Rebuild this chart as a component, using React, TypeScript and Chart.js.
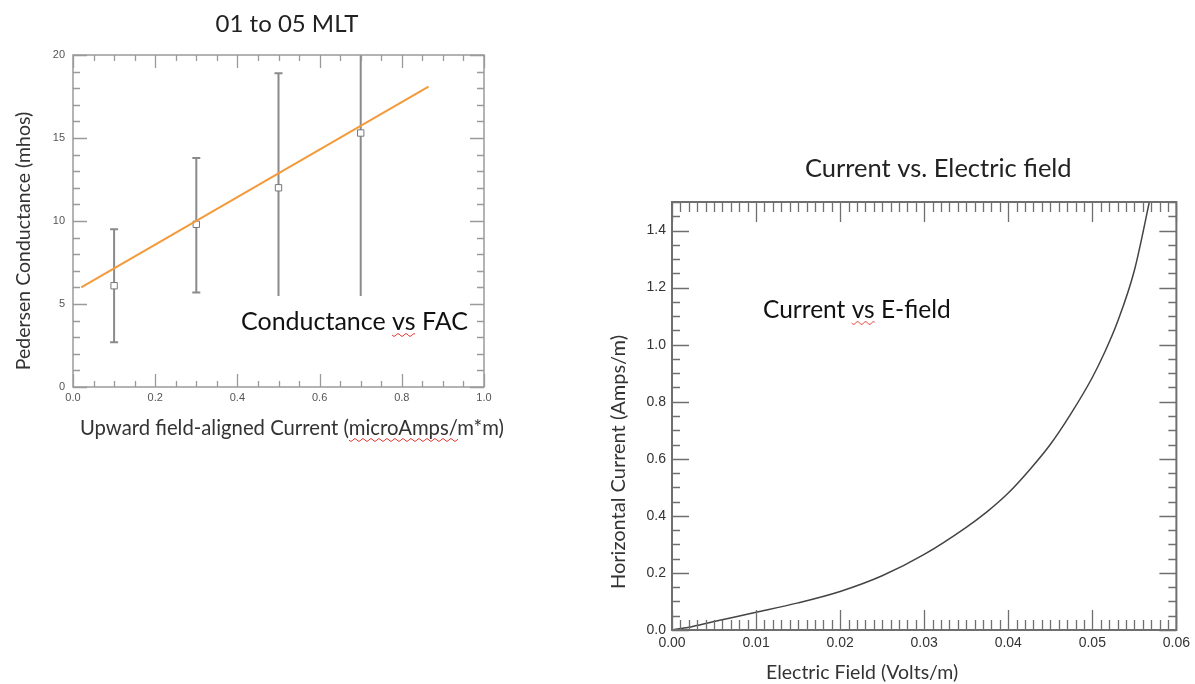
import React, { useEffect, useRef } from "react";
import { Chart, registerables } from "chart.js";

Chart.register(...registerables);

// ---------- Left chart data: Conductance vs FAC ----------
const facCurrent = [0.1, 0.3, 0.5, 0.7];
const conductance = [6.1, 9.8, 12.0, 15.3];
const conductanceLow = [2.7, 5.7, 5.1, 4.5];
const conductanceHigh = [9.5, 13.8, 18.9, 21.5];
const fitCurrent = [0.02, 0.865];
const fitConductance = [6.0, 18.1];
const leftXTicks = [0, 0.2, 0.4, 0.6, 0.8, 1.0];
const leftYTicks = [0, 5, 10, 15, 20];

// ---------- Right chart data: Current vs E-field ----------
const eField = [0, 0.002, 0.005, 0.01, 0.015, 0.02, 0.025, 0.03, 0.035, 0.0375, 0.04, 0.0425, 0.045, 0.0475, 0.05, 0.0515, 0.053, 0.055, 0.057];
const hCurrent = [0, 0.01, 0.03, 0.062, 0.095, 0.135, 0.19, 0.265, 0.36, 0.415, 0.48, 0.56, 0.65, 0.76, 0.885, 0.975, 1.08, 1.26, 1.53];
const rightXTicks = [0, 0.01, 0.02, 0.03, 0.04, 0.05, 0.06];
const rightYTicks = [0, 0.2, 0.4, 0.6, 0.8, 1.0, 1.2, 1.4];

const TEXT_FONT = "Lato, 'Open Sans', sans-serif";
const TICK_FONT = "'Liberation Sans', Arial, sans-serif";

// Frame with IDL-style inward ticks on all four sides
const idlFrame = {
  id: "idlFrame",
  afterDraw(chart: any, _args: any, opts: any) {
    const { ctx, chartArea: a, scales } = chart;
    ctx.save();
    ctx.strokeStyle = opts.color;
    ctx.lineWidth = opts.tickWidth;
    const drawAxis = (scale: any, spec: any, horizontal: boolean) => {
      const n = Math.round((scale.max - scale.min) / spec.minor);
      for (let i = 0; i <= n; i++) {
        const v = scale.min + i * spec.minor;
        const r = v / spec.major;
        const isMajor = Math.abs(r - Math.round(r)) < 1e-6;
        const len = isMajor ? spec.majorLen : spec.minorLen;
        const p = Math.round(scale.getPixelForValue(v)) + 0.5;
        ctx.beginPath();
        if (horizontal) {
          ctx.moveTo(p, a.bottom);
          ctx.lineTo(p, a.bottom - len);
          ctx.moveTo(p, a.top);
          ctx.lineTo(p, a.top + len);
        } else {
          ctx.moveTo(a.left, p);
          ctx.lineTo(a.left + len, p);
          ctx.moveTo(a.right, p);
          ctx.lineTo(a.right - len, p);
        }
        ctx.stroke();
      }
    };
    drawAxis(scales.x, opts.x, true);
    drawAxis(scales.y, opts.y, false);
    ctx.lineWidth = opts.width;
    ctx.strokeRect(a.left, a.top, a.right - a.left, a.bottom - a.top);
    ctx.restore();
  },
};

// Vertical error bars from low/high arrays
const errorBars = {
  id: "errorBars",
  beforeDatasetsDraw(chart: any, _args: any, opts: any) {
    if (!opts.enabled) return;
    const { ctx, chartArea: a, scales } = chart;
    ctx.save();
    ctx.beginPath();
    ctx.rect(a.left, a.top, a.right - a.left, a.bottom - a.top);
    ctx.clip();
    ctx.strokeStyle = opts.color;
    ctx.lineWidth = opts.width;
    for (let i = 0; i < facCurrent.length; i++) {
      const x = scales.x.getPixelForValue(facCurrent[i]);
      const y0 = scales.y.getPixelForValue(conductanceLow[i]);
      const y1 = scales.y.getPixelForValue(conductanceHigh[i]);
      ctx.beginPath();
      ctx.moveTo(x, y0);
      ctx.lineTo(x, y1);
      ctx.moveTo(x - opts.cap, y0);
      ctx.lineTo(x + opts.cap, y0);
      ctx.moveTo(x - opts.cap, y1);
      ctx.lineTo(x + opts.cap, y1);
      ctx.stroke();
    }
    ctx.restore();
  },
};

// White text-box area (the annotation box overlaying the plot)
const whiteBox = {
  id: "whiteBox",
  afterDatasetsDraw(chart: any, _args: any, opts: any) {
    if (!opts.enabled) return;
    const ctx = chart.ctx;
    ctx.save();
    ctx.fillStyle = "#ffffff";
    ctx.fillRect(opts.x0, opts.y0, opts.x1 - opts.x0, opts.y1 - opts.y0);
    ctx.restore();
  },
};

// Free text: titles, axis titles and annotations
const textLayer = {
  id: "textLayer",
  afterDraw(chart: any, _args: any, opts: any) {
    const ctx = chart.ctx;
    const items = opts.items || [];
    for (let k = 0; k < items.length; k++) {
      const t = items[k];
      ctx.save();
      ctx.font = t.css;
      ctx.fillStyle = t.color;
      ctx.textAlign = t.align || "left";
      ctx.textBaseline = "alphabetic";
      ctx.translate(t.x, t.y);
      if (t.rotate) ctx.rotate(t.rotate);
      ctx.fillText(t.text, 0, 0);
      if (t.squiggle) {
        const idx = t.text.indexOf(t.squiggle);
        const total = ctx.measureText(t.text).width;
        const start = t.align === "center" ? -total / 2 : 0;
        const sx = start + ctx.measureText(t.text.slice(0, idx)).width;
        const w = ctx.measureText(t.squiggle).width;
        ctx.strokeStyle = "#e0302a";
        ctx.lineWidth = 1;
        ctx.beginPath();
        const yb = t.sqY || 4;
        for (let px = 0; px <= w; px += 1) {
          const yy = yb + Math.sin((px / 4) * Math.PI) * 1.3;
          if (px === 0) ctx.moveTo(sx + px, yy);
          else ctx.lineTo(sx + px, yy);
        }
        ctx.stroke();
      }
      ctx.restore();
    }
  },
};

function axis(min: number, max: number, values: number[], decimals: number, padding: number, fit: number, horizontal: boolean, tickSize: number, color: string) {
  return {
    type: "linear",
    min,
    max,
    afterBuildTicks: (s: any) => {
      s.ticks = values.map((v) => ({ value: v }));
    },
    afterFit: (s: any) => {
      if (horizontal) s.height = fit;
      else s.width = fit;
    },
    grid: { display: false, drawTicks: false },
    border: { display: false },
    ticks: {
      callback: (v: any) => Number(v).toFixed(decimals),
      padding,
      maxRotation: 0,
      autoSkip: false,
      color,
      font: { family: TICK_FONT, size: tickSize },
    },
  };
}

function leftConfig(): any {
  return {
    type: "scatter",
    data: {
      datasets: [
        {
          label: "fit",
          data: fitCurrent.map((x, i) => ({ x, y: fitConductance[i] })),
          showLine: true,
          borderColor: "#f39a3a",
          borderWidth: 2,
          pointRadius: 0,
        },
        {
          label: "Conductance",
          data: facCurrent.map((x, i) => ({ x, y: conductance[i] })),
          pointStyle: "rect",
          pointRadius: 4.5,
          borderColor: "#777777",
          borderWidth: 1,
          backgroundColor: "#ffffff",
          showLine: false,
        },
      ],
    },
    options: {
      animation: false,
      responsive: false,
      devicePixelRatio: 1,
      events: [],
      layout: { padding: { left: 0, top: 55, right: 36, bottom: 0 } },
      scales: {
        x: axis(0, 1, leftXTicks, 1, 4, 63, true, 11, "#555555"),
        y: axis(0, 20, leftYTicks, 0, 8, 73, false, 11, "#555555"),
      },
      plugins: {
        legend: { display: false },
        tooltip: { enabled: false },
        idlFrame: {
          color: "#9a9a9a",
          width: 1.5,
          tickWidth: 1.3,
          x: { major: 0.2, minor: 0.05, majorLen: 13, minorLen: 6 },
          y: { major: 5, minor: 1, majorLen: 14, minorLen: 7 },
        },
        errorBars: { enabled: true, color: "#8a8a8a", width: 2, cap: 4 },
        whiteBox: { enabled: true, x0: 232, y0: 296, x1: 468, y1: 370 },
        textLayer: {
          items: [
            { text: "01 to 05 MLT", x: 287, y: 32, css: `24px ${TEXT_FONT}`, color: "#222222", align: "center" },
            { text: "Conductance vs FAC", x: 241, y: 330, css: `25px ${TEXT_FONT}`, color: "#111111", squiggle: "vs", sqY: 5 },
            { text: "Upward field-aligned Current (microAmps/m*m)", x: 80, y: 435, css: `20.3px ${TEXT_FONT}`, color: "#333333", squiggle: "microAmps/", sqY: 5 },
            { text: "Pedersen Conductance (mhos)", x: 30, y: 241, css: `19.5px ${TEXT_FONT}`, color: "#333333", align: "center", rotate: -Math.PI / 2 },
          ],
        },
      },
    },
    plugins: [errorBars, whiteBox, idlFrame, textLayer],
  };
}

function rightConfig(): any {
  return {
    type: "scatter",
    data: {
      datasets: [
        {
          label: "Current vs E-field",
          data: eField.map((x, i) => ({ x, y: hCurrent[i] })),
          showLine: true,
          borderColor: "#444444",
          borderWidth: 1.5,
          pointRadius: 0,
          cubicInterpolationMode: "monotone",
        },
      ],
    },
    options: {
      animation: false,
      responsive: false,
      devicePixelRatio: 1,
      events: [],
      layout: { padding: { left: 0, top: 62, right: 15, bottom: 0 } },
      scales: {
        x: axis(0, 0.06, rightXTicks, 2, 5, 54, true, 14, "#333333"),
        y: axis(0, 1.5, rightYTicks, 1, 6, 82, false, 14, "#333333"),
      },
      plugins: {
        legend: { display: false },
        tooltip: { enabled: false },
        idlFrame: {
          color: "#6f6f6f",
          width: 2,
          tickWidth: 1.3,
          x: { major: 0.01, minor: 0.001, majorLen: 20, minorLen: 10 },
          y: { major: 0.2, minor: 0.05, majorLen: 17, minorLen: 8 },
        },
        errorBars: { enabled: false },
        whiteBox: { enabled: false },
        textLayer: {
          items: [
            { text: "Current vs. Electric field", x: 215, y: 37, css: `25.5px ${TEXT_FONT}`, color: "#222222" },
            { text: "Current vs E-field", x: 173, y: 178, css: `24.5px ${TEXT_FONT}`, color: "#111111", squiggle: "vs", sqY: 5 },
            { text: "Electric Field (Volts/m)", x: 176, y: 539, css: `19.5px ${TEXT_FONT}`, color: "#333333" },
            { text: "Horizontal Current (Amps/m)", x: 35, y: 322, css: `20px ${TEXT_FONT}`, color: "#333333", align: "center", rotate: -Math.PI / 2 },
          ],
        },
      },
    },
    plugins: [idlFrame, textLayer],
  };
}

export default function App() {
  const leftRef = useRef<HTMLCanvasElement>(null);
  const rightRef = useRef<HTMLCanvasElement>(null);

  useEffect(() => {
    const c1 = new Chart(leftRef.current as HTMLCanvasElement, leftConfig());
    const c2 = new Chart(rightRef.current as HTMLCanvasElement, rightConfig());
    return () => {
      c1.destroy();
      c2.destroy();
    };
  }, []);

  return (
    <div style={{ position: "fixed", left: 0, top: 0, width: 1195, height: 684, background: "#ffffff", overflow: "hidden" }}>
      <canvas ref={leftRef} width={520} height={450} style={{ position: "absolute", left: 0, top: 0, width: 520, height: 450 }} />
      <canvas ref={rightRef} width={605} height={544} style={{ position: "absolute", left: 590, top: 140, width: 605, height: 544 }} />
    </div>
  );
}
